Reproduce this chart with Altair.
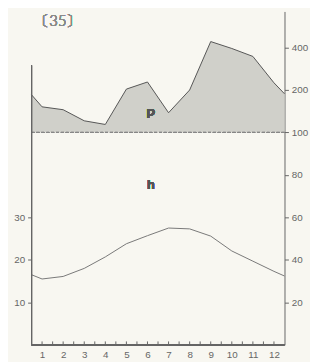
import altair as alt
import pandas as pd
import numpy as np

# Month positions (0.5 / 12.5 are the edge values read at the axes)
pos = [0.5, 1, 2, 3, 4, 5, 6, 7, 8, 9, 10, 11, 12, 12.5]
# Precipitation (mm)
precip = [185, 152, 145, 121, 114, 203, 228, 138, 200, 441, 394, 346, 225, 188]
# Temperature (deg C)
temp = [16.5, 15.5, 16.1, 18.0, 20.7, 23.8, 25.7, 27.5, 27.3, 25.6, 22.1, 19.7, 17.3, 16.2]

month_labels = list(range(1, 13))
x_tick_pos = [m / 2 for m in range(2, 25)]   # every half month
left_ticks = [10, 20, 30]
right_ticks = [10, 20, 30, 40, 50, 60, 70]  # shown as 20,40,60,80,100,200,400


def p_disp(p):
    return p / 2.0 if p <= 100 else 50 + 10 * np.log2(p / 100.0)


df = pd.DataFrame({
    "pos": pos,
    "precip": precip,
    "pdisp": [p_disp(p) for p in precip],
    "temp": temp,
})
tick_df = pd.DataFrame({"t": x_tick_pos})

W, H = 258, 340
XDOM = [0.5, 12.5]
YDOM = [0, 78.5]
GREY = "#666666"
FONT = "Liberation Sans"

xscale = alt.Scale(domain=XDOM, nice=False, zero=False)
yscale = alt.Scale(domain=YDOM, nice=False, zero=False)

x_axis = alt.Axis(
    orient="bottom", values=month_labels, ticks=False, domain=False,
    labelPadding=5, labelFontSize=10, labelColor=GREY, labelOverlap=False,
    labelFlush=False, labelFont=FONT, grid=False, title=None,
)
left_axis = alt.Axis(
    orient="left", values=left_ticks, domain=False, tickSize=4, tickColor=GREY,
    labelPadding=3, labelFontSize=10, labelColor=GREY, labelFont=FONT,
    grid=False, title=None,
)
right_axis = alt.Axis(
    orient="right", values=right_ticks, domain=True, domainColor=GREY,
    tickSize=4, tickColor=GREY, labelOverlap=False,
    labelExpr="datum.value <= 50 ? datum.value * 2 : round(100 * pow(2, (datum.value - 50) / 10))",
    labelPadding=3, labelFontSize=10, labelColor=GREY, labelFont=FONT,
    grid=False, title=None,
)

base = alt.Chart(df)

area = base.mark_area(color="#d0d0ca", opacity=1).encode(
    x=alt.X("pos:Q", scale=xscale, axis=x_axis),
    y=alt.Y("pdisp:Q", scale=yscale, axis=left_axis),
    y2=alt.Y2Datum(50),
)

pline = base.mark_line(color="#555555", strokeWidth=1).encode(
    x=alt.X("pos:Q", scale=xscale, axis=None),
    y=alt.Y("pdisp:Q", scale=yscale, axis=None),
)

tline = base.mark_line(color="#777777", strokeWidth=1).encode(
    x=alt.X("pos:Q", scale=xscale, axis=None),
    y=alt.Y("temp:Q", scale=yscale, axis=right_axis),
)

xticks = alt.Chart(tick_df).mark_rule(color=GREY, strokeWidth=1).encode(
    x=alt.X("t:Q", scale=xscale, axis=None),
    y=alt.YDatum(-0.2, scale=yscale, axis=None),
    y2=alt.Y2Datum(0.8),
)

base100 = alt.Chart(df).mark_rule(color="#888888", strokeWidth=1, strokeDash=[3, 2]).encode(
    x=alt.XDatum(XDOM[0], scale=xscale, axis=None),
    x2=alt.X2Datum(XDOM[1]),
    y=alt.YDatum(50, scale=yscale, axis=None),
)

left_rule = alt.Chart(df).mark_rule(color=GREY, strokeWidth=1).encode(
    x=alt.XDatum(XDOM[0], scale=xscale, axis=None),
    y=alt.YDatum(0, scale=yscale, axis=None),
    y2=alt.Y2Datum(65.8),
)

bottom_rule = alt.Chart(df).mark_rule(color=GREY, strokeWidth=1).encode(
    x=alt.XDatum(XDOM[0], scale=xscale, axis=None),
    x2=alt.X2Datum(XDOM[1]),
    y=alt.YDatum(0, scale=yscale, axis=None),
)


def label(text, xv, yv, size, weight="normal", color="#555555", font=FONT):
    return alt.Chart(df).mark_text(
        text=text, fontSize=size, fontWeight=weight, color=color, font=font,
        align="center", baseline="middle",
    ).encode(
        x=alt.XDatum(xv, scale=xscale, axis=None),
        y=alt.YDatum(yv, scale=yscale, axis=None),
    )


t_p = label("P", 6.16, 54.3, 13, "bold", "#555555")
t_h = label("h", 6.16, 37.6, 13, "bold", "#555555")
t_35 = label("〔35〕", 1.75, 76.3, 15, 300, "#8a8a8a", "Lato")

chart = alt.layer(
    area, base100, pline, tline, left_rule, bottom_rule, xticks, t_p, t_h, t_35
).resolve_axis(x="independent", y="independent").properties(
    width=W, height=H,
    autosize=alt.AutoSizeParams(type="none"),
    padding={"left": 24, "top": 0, "right": 26, "bottom": 14},
    background="#f8f7f1",
).configure_view(strokeWidth=0).configure_axis(labelOverlap=False)

chart.save("out.html", embed_options={"renderer": "svg", "actions": False})
